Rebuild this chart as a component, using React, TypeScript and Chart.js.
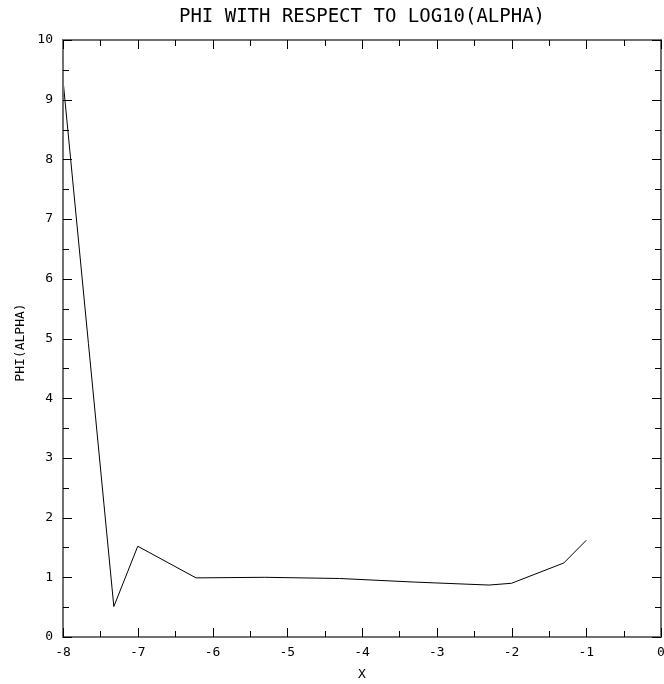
import React, { useEffect, useRef } from "react";
import { Chart, registerables } from "chart.js";

Chart.register(...registerables);

const xValues = [-8, -7.32, -7, -6.22, -5.3, -4.3, -3.3, -2.3, -2, -1.3, -1];
const phiValues = [9.33, 0.51, 1.52, 0.99, 1.0, 0.98, 0.92, 0.87, 0.9, 1.24, 1.62];
const titleText = "PHI WITH RESPECT TO LOG10(ALPHA)";
const xTitle = "X";
const yTitle = "PHI(ALPHA)";
const xMin = -8, xMax = 0, yMin = 0, yMax = 10;

const FONT = "'DejaVu Sans Mono', monospace";

const framePlugin = {
  id: "frame",
  afterDraw(chart: any) {
    const { ctx, chartArea } = chart;
    const { left, right, top, bottom } = chartArea;
    const xs = chart.scales.x;
    const ys = chart.scales.y;
    ctx.save();
    ctx.strokeStyle = "#707070";
    ctx.lineWidth = 2;
    ctx.strokeRect(left, top, right - left, bottom - top);
    ctx.strokeStyle = "#000";
    ctx.lineWidth = 1;
    ctx.beginPath();
    for (let v = xMin; v <= xMax + 1e-9; v += 0.5) {
      const len = Number.isInteger(v) ? 9 : 6;
      const px = Math.round(xs.getPixelForValue(v)) + 0.5;
      ctx.moveTo(px, bottom);
      ctx.lineTo(px, bottom - len);
      ctx.moveTo(px, top);
      ctx.lineTo(px, top + len);
    }
    for (let v = yMin; v <= yMax + 1e-9; v += 0.5) {
      const len = Number.isInteger(v) ? 9 : 6;
      const py = Math.round(ys.getPixelForValue(v)) + 0.5;
      ctx.moveTo(left, py);
      ctx.lineTo(left + len, py);
      ctx.moveTo(right, py);
      ctx.lineTo(right - len, py);
    }
    ctx.stroke();
    ctx.fillStyle = "#000";
    ctx.textAlign = "center";
    ctx.textBaseline = "middle";
    ctx.font = `19px ${FONT}`;
    ctx.fillText(titleText, (left + right) / 2, 17);
    ctx.font = `13px ${FONT}`;
    ctx.fillText(xTitle, (left + right) / 2, 675);
    ctx.translate(21, (top + bottom) / 2 + 4);
    ctx.rotate(-Math.PI / 2);
    ctx.fillText(yTitle, 0, 0);
    ctx.restore();
  },
};

export default function App() {
  const ref = useRef<HTMLCanvasElement>(null);
  useEffect(() => {
    if (!ref.current) return;
    const chart = new Chart(ref.current, {
      type: "line",
      data: {
        datasets: [
          {
            data: xValues.map((x, i) => ({ x, y: phiValues[i] })),
            borderColor: "#000",
            borderWidth: 1,
            pointRadius: 0,
            tension: 0,
            fill: false,
          },
        ],
      },
      options: {
        responsive: false,
        animation: false,
        devicePixelRatio: 1,
        layout: { padding: { top: 40, left: 0, right: 3, bottom: 0 } },
        plugins: { legend: { display: false }, tooltip: { enabled: false }, title: { display: false } },
        scales: {
          x: {
            type: "linear",
            min: xMin,
            max: xMax,
            grid: { display: false, drawTicks: false },
            border: { display: false },
            ticks: { stepSize: 1, color: "#000", padding: 8, maxRotation: 0, autoSkip: false, font: { family: FONT, size: 13 } },
            afterFit: (s: any) => { s.height = 47; s.paddingRight = 0; s.paddingLeft = 0; },
          },
          y: {
            type: "linear",
            min: yMin,
            max: yMax,
            grid: { display: false, drawTicks: false },
            border: { display: false },
            ticks: { stepSize: 1, color: "#000", padding: 10, font: { family: FONT, size: 13 } },
            afterFit: (s: any) => { s.width = 63; s.paddingTop = 0; s.paddingBottom = 0; },
          },
        },
      },
      plugins: [framePlugin],
    } as any);
    return () => chart.destroy();
  }, []);
  return (
    <div style={{ position: "fixed", left: 0, top: 0, width: 664, height: 684, background: "#fff" }}>
      <canvas ref={ref} width={664} height={684} />
    </div>
  );
}
